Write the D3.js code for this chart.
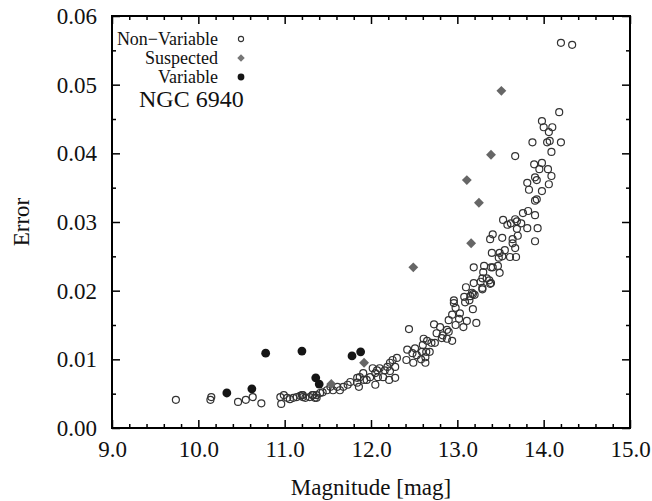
<!DOCTYPE html>
<html lang="en">
<head>
    <meta charset="UTF-8">
    <title>NGC 6940 photometric errors</title>
    <script src="https://d3js.org/d3.v7.min.js"></script>
    <style>
        body, html {
            margin: 0;
            padding: 0;
            background: #fff;
        }
        svg text {
            font-family: "Liberation Serif", "Times New Roman", Times, serif;
            fill: #111;
        }
        .tick line {
            stroke: #000;
            stroke-width: 1.5px;
        }
    </style>
</head>
<body>
    <script>
        // Non-variable stars: magnitude / error
        const nonVarMag = [
            9.74, 10.14, 10.15, 10.46, 10.55, 10.63, 10.73, 10.95, 10.96, 10.99,
            11.03, 11.06, 11.10, 11.14, 11.18, 11.21, 11.24, 11.29, 11.33, 11.37,
            11.20, 11.21, 11.32, 11.35, 11.37, 11.41, 11.44, 11.49, 11.53, 11.56,
            11.61, 11.64, 11.68, 11.73, 11.76, 11.84, 11.86, 11.92, 11.84, 11.87,
            11.95, 11.91, 11.99, 12.05, 12.08, 12.14, 12.21, 12.28, 12.05, 12.22,
            12.02, 12.07, 12.10, 12.16, 12.28, 12.19, 12.22, 12.25, 12.30, 12.49,
            12.63, 12.41, 12.58, 12.63, 12.53, 12.48, 12.42, 12.51, 12.59, 12.64,
            12.68, 12.60, 12.44, 12.61, 12.65, 12.70, 12.74, 12.94, 12.88, 12.82,
            12.83, 12.76, 12.90, 12.88, 12.80, 12.73, 12.98, 13.07, 13.22, 13.11,
            13.02, 12.90, 12.94, 13.03, 13.18, 12.98, 12.96, 13.09, 13.14, 13.18,
            13.10, 13.19, 13.29, 13.39, 12.96, 13.08, 13.15, 13.20, 13.17, 13.29,
            13.38, 13.27, 13.37, 13.34, 13.29, 13.49, 13.30, 13.19, 13.31, 13.39,
            13.41, 13.47, 13.48, 13.52, 13.61, 13.68, 13.40, 13.49, 13.55, 13.67,
            13.64, 13.90, 13.38, 13.41, 13.52, 13.64, 13.70, 13.69, 13.81, 13.93,
            13.58, 13.62, 13.74, 13.69, 13.67, 13.53, 13.76, 13.82, 13.90, 13.92,
            13.90, 13.83, 13.98, 13.81, 14.06, 13.92, 13.90, 14.09, 13.95, 14.05,
            13.89, 13.98, 13.67, 14.09, 13.87, 14.04, 14.07, 14.20, 14.06, 14.00,
            14.10, 13.98, 14.18, 14.20, 14.33
        ];
        const nonVarErr = [
            0.0041, 0.0041, 0.0045, 0.0038, 0.0041, 0.0045, 0.0036, 0.0045, 0.0035, 0.0048,
            0.0044, 0.0042, 0.0044, 0.0045, 0.0047, 0.0048, 0.0044, 0.0045, 0.0048, 0.0044,
            0.0048, 0.0045, 0.0048, 0.0044, 0.0048, 0.0051, 0.0052, 0.0055, 0.0060, 0.0055,
            0.0060, 0.0055, 0.0060, 0.0063, 0.0067, 0.0066, 0.0060, 0.0070, 0.0073, 0.0074,
            0.0070, 0.0080, 0.0074, 0.0080, 0.0074, 0.0074, 0.0070, 0.0073, 0.0063, 0.0083,
            0.0087, 0.0084, 0.0087, 0.0084, 0.0089, 0.0089, 0.0095, 0.0099, 0.0102, 0.0095,
            0.0095, 0.0099, 0.0100, 0.0103, 0.0106, 0.0109, 0.0114, 0.0116, 0.0111, 0.0111,
            0.0111, 0.0121, 0.0144, 0.0130, 0.0127, 0.0124, 0.0124, 0.0127, 0.0130, 0.0131,
            0.0135, 0.0138, 0.0140, 0.0143, 0.0147, 0.0151, 0.0150, 0.0147, 0.0153, 0.0156,
            0.0159, 0.0157, 0.0165, 0.0167, 0.0173, 0.0175, 0.0182, 0.0183, 0.0186, 0.0195,
            0.0205, 0.0211, 0.0202, 0.0211, 0.0186, 0.0191, 0.0192, 0.0194, 0.0197, 0.0204,
            0.0210, 0.0213, 0.0215, 0.0218, 0.0218, 0.0226, 0.0227, 0.0234, 0.0236, 0.0234,
            0.0234, 0.0236, 0.0248, 0.0250, 0.0249, 0.0249, 0.0255, 0.0255, 0.0259, 0.0262,
            0.0269, 0.0272, 0.0275, 0.0282, 0.0277, 0.0275, 0.0280, 0.0290, 0.0291, 0.0291,
            0.0296, 0.0298, 0.0298, 0.0301, 0.0304, 0.0303, 0.0313, 0.0316, 0.0310, 0.0333,
            0.0331, 0.0347, 0.0345, 0.0357, 0.0355, 0.0361, 0.0365, 0.0367, 0.0377, 0.0377,
            0.0384, 0.0386, 0.0396, 0.0402, 0.0416, 0.0416, 0.0418, 0.0416, 0.0431, 0.0438,
            0.0438, 0.0447, 0.0460, 0.0561, 0.0558
        ];

        // Suspected variables
        const suspMag = [11.54, 11.92, 12.49, 13.16, 13.25, 13.11, 13.39, 13.51];
        const suspErr = [0.0064, 0.0095, 0.0234, 0.0269, 0.0328, 0.0361, 0.0398, 0.0491];

        // Variables
        const varMag = [10.33, 10.62, 10.78, 11.20, 11.36, 11.40, 11.78, 11.88];
        const varErr = [0.0051, 0.0057, 0.0109, 0.0112, 0.0073, 0.0064, 0.0105, 0.0111];

        const xMajor = [9, 10, 11, 12, 13, 14, 15];
        const yMajor = [0, 0.01, 0.02, 0.03, 0.04, 0.05, 0.06];
        const legendLabels = ["Non\u2212Variable", "Suspected", "Variable"];

        const width = 652, height = 501;
        const margin = {top: 16, right: 22, bottom: 73, left: 112};
        const w = width - margin.left - margin.right;
        const h = height - margin.top - margin.bottom;
        const serif = "'Liberation Serif', 'Times New Roman', Times, serif";

        const svg = d3.select("body").append("svg")
            .attr("width", width)
            .attr("height", height)
            .attr("font-family", serif);

        const g = svg.append("g")
            .attr("transform", `translate(${margin.left},${margin.top})`);

        const x = d3.scaleLinear().domain([9, 15]).range([0, w]);
        const y = d3.scaleLinear().domain([0, 0.06]).range([h, 0]);

        const xMinor = d3.range(9, 15.001, 0.2).filter(v => Math.abs(v - Math.round(v)) > 0.01);
        const yMinor = d3.range(0.005, 0.06, 0.01);

        // minor ticks (inward, all sides)
        g.append("g").attr("transform", `translate(0,${h})`)
            .call(d3.axisBottom(x).tickValues(xMinor).tickSize(-4).tickFormat(""));
        g.append("g")
            .call(d3.axisTop(x).tickValues(xMinor).tickSize(-4).tickFormat(""));
        g.append("g")
            .call(d3.axisLeft(y).tickValues(yMinor).tickSize(-4).tickFormat(""));
        g.append("g").attr("transform", `translate(${w},0)`)
            .call(d3.axisRight(y).tickValues(yMinor).tickSize(-4).tickFormat(""));

        // major ticks
        g.append("g").attr("class", "xaxis").attr("transform", `translate(0,${h})`)
            .call(d3.axisBottom(x).tickValues(xMajor).tickSize(-8).tickPadding(13).tickFormat(d3.format(".1f")));
        g.append("g")
            .call(d3.axisTop(x).tickValues(xMajor).tickSize(-8).tickFormat(""));
        g.append("g").attr("class", "yaxis")
            .call(d3.axisLeft(y).tickValues(yMajor).tickSize(-8).tickPadding(15).tickFormat(d3.format(".2f")));
        g.append("g").attr("transform", `translate(${w},0)`)
            .call(d3.axisRight(y).tickValues(yMajor).tickSize(-8).tickFormat(""));

        g.selectAll(".domain").remove();
        g.selectAll("g").attr("font-family", serif).attr("font-size", null);
        g.selectAll(".xaxis text, .yaxis text")
            .attr("font-size", 23)
            .attr("fill", "#111");
        g.selectAll(".xaxis text").attr("dy", "0.71em");

        // frame
        g.append("rect")
            .attr("width", w)
            .attr("height", h)
            .attr("fill", "none")
            .attr("stroke", "#000")
            .attr("stroke-width", 2);

        // points
        const nonVar = nonVarMag.map((m, i) => ({m: m, e: nonVarErr[i]}));
        const susp = suspMag.map((m, i) => ({m: m, e: suspErr[i]}));
        const vars = varMag.map((m, i) => ({m: m, e: varErr[i]}));

        g.append("g").selectAll("circle")
            .data(nonVar)
            .enter().append("circle")
            .attr("cx", d => x(d.m))
            .attr("cy", d => y(d.e))
            .attr("r", 3.5)
            .attr("fill", "none")
            .attr("stroke", "#333")
            .attr("stroke-width", 1.2);

        const diamond = d3.symbol().type(d3.symbolDiamond2).size(62);
        g.append("g").selectAll("path")
            .data(susp)
            .enter().append("path")
            .attr("d", diamond)
            .attr("transform", d => `translate(${x(d.m)},${y(d.e)})`)
            .attr("fill", "#666");

        g.append("g").selectAll("circle")
            .data(vars)
            .enter().append("circle")
            .attr("cx", d => x(d.m))
            .attr("cy", d => y(d.e))
            .attr("r", 4.4)
            .attr("fill", "#151515");

        // legend
        const legend = g.append("g");
        const legY = [23, 42, 61];
        legend.selectAll("text")
            .data(legendLabels)
            .enter().append("text")
            .attr("x", 106)
            .attr("y", (d, i) => legY[i])
            .attr("text-anchor", "end")
            .attr("dy", "0.33em")
            .attr("font-size", 18)
            .text(d => d);

        legend.append("circle")
            .attr("cx", 129).attr("cy", legY[0])
            .attr("r", 2.6)
            .attr("fill", "none").attr("stroke", "#333").attr("stroke-width", 1.1);
        legend.append("path")
            .attr("d", d3.symbol().type(d3.symbolDiamond2).size(36))
            .attr("transform", `translate(129,${legY[1]})`)
            .attr("fill", "#777");
        legend.append("circle")
            .attr("cx", 129).attr("cy", legY[2])
            .attr("r", 3.4)
            .attr("fill", "#151515");

        g.append("text")
            .attr("x", 27)
            .attr("y", 91)
            .attr("font-size", 24)
            .text("NGC 6940");

        // axis titles
        svg.append("text")
            .attr("x", margin.left + w / 2)
            .attr("y", 495)
            .attr("text-anchor", "middle")
            .attr("font-size", 23)
            .text("Magnitude [mag]");

        svg.append("text")
            .attr("transform", `translate(29,${margin.top + h / 2}) rotate(-90)`)
            .attr("text-anchor", "middle")
            .attr("font-size", 23)
            .text("Error");
    </script>
</body>
</html>
